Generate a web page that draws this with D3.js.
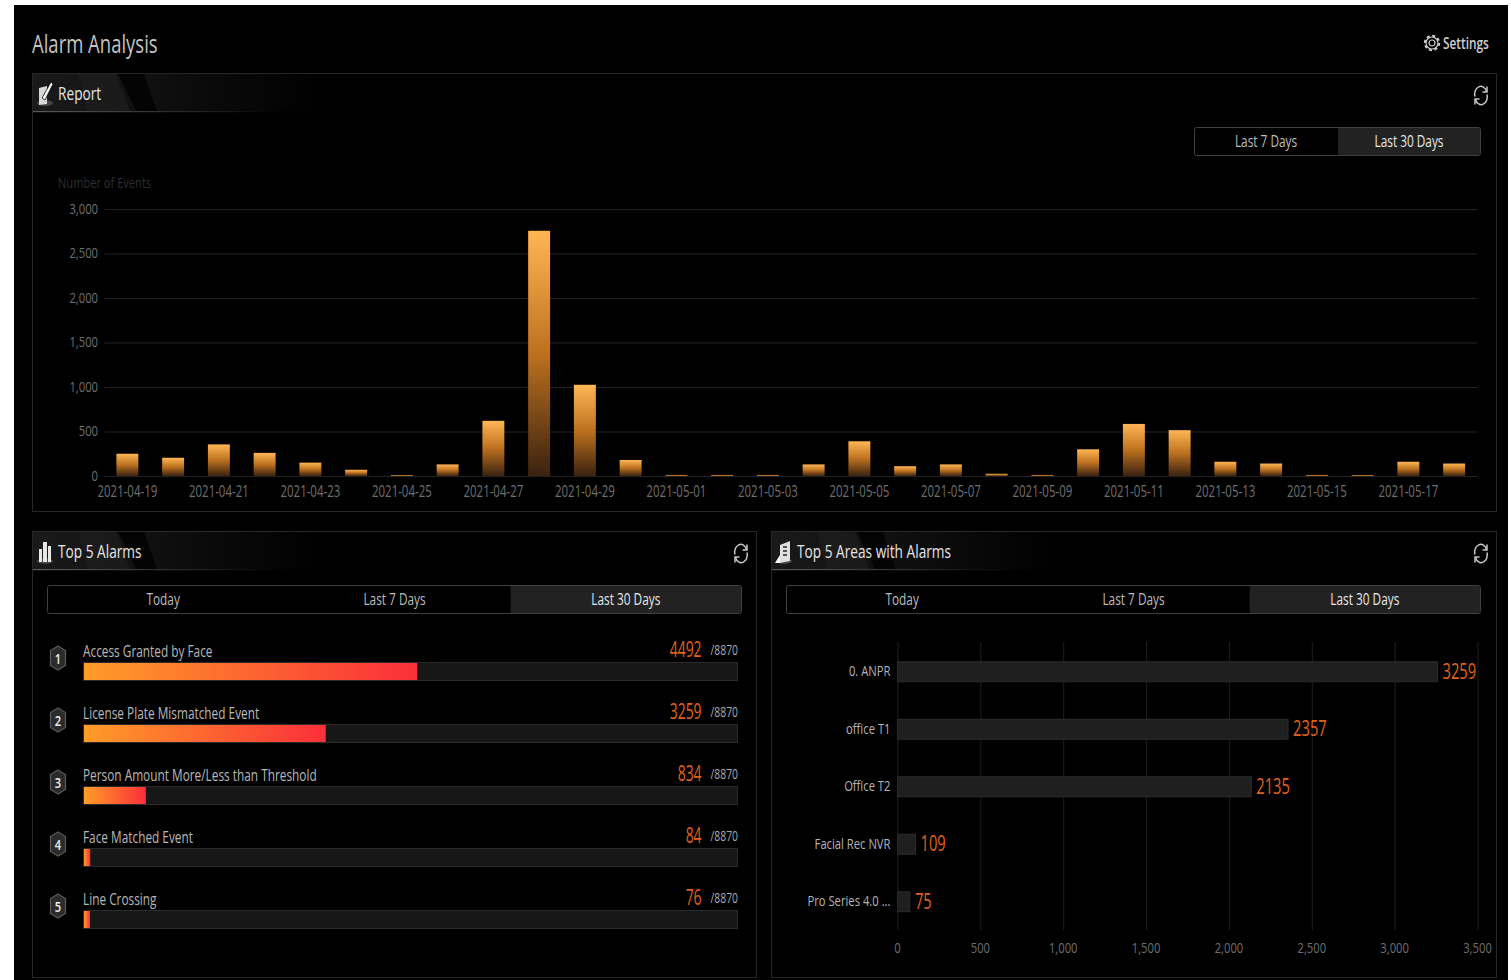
<!DOCTYPE html>
<html><head><meta charset="utf-8">
<script src="https://cdn.jsdelivr.net/npm/d3@7/dist/d3.min.js"></script>
<style>
html,body{margin:0;padding:0;background:#000;overflow:hidden}
svg{display:block}
text{font-family:"Open Sans","Noto Sans",sans-serif}
</style></head><body>
<svg id="c" width="1511" height="980"></svg>
<script>
const reportDates=["2021-04-19","2021-04-20","2021-04-21","2021-04-22","2021-04-23","2021-04-24","2021-04-25","2021-04-26","2021-04-27","2021-04-28","2021-04-29","2021-04-30","2021-05-01","2021-05-02","2021-05-03","2021-05-04","2021-05-05","2021-05-06","2021-05-07","2021-05-08","2021-05-09","2021-05-10","2021-05-11","2021-05-12","2021-05-13","2021-05-14","2021-05-15","2021-05-16","2021-05-17","2021-05-18"];
const reportValues=[250,205,355,260,150,70,10,130,620,2755,1025,180,12,12,12,130,390,110,130,25,12,300,585,515,160,140,12,10,160,140];
const reportTicks=[0,500,1000,1500,2000,2500,3000];
const alarmNames=["Access Granted by Face","License Plate Mismatched Event","Person Amount More/Less than Threshold","Face Matched Event","Line Crossing"];
const alarmValues=[4492,3259,834,84,76];
const alarmTotal=8870;
const areaNames=["0. ANPR","office T1","Office T2","Facial Rec NVR","Pro Series 4.0 ..."];
const areaValues=[3259,2357,2135,109,75];
const areaTicks=[0,500,1000,1500,2000,2500,3000,3500];

const svg=d3.select("#c");
const defs=svg.append("defs");
const SX=0.74;
function T(parent,x,y,s,size,fill,anchor,sx){
  return parent.append("text").attr("transform",`translate(${x},${y}) scale(${sx||SX},1)`)
    .attr("text-anchor",anchor||"start").attr("font-size",size).attr("fill",fill).text(s);
}
const g1=defs.append("linearGradient").attr("id","barG").attr("x1",0).attr("y1",0).attr("x2",0).attr("y2",1);
[[0,"#ffb655"],[0.5,"#bd711f"],[1,"#3a2210"]].forEach(d=>g1.append("stop").attr("offset",d[0]).attr("stop-color",d[1]));
const g2=defs.append("linearGradient").attr("id","alarmG");
[[0,"#ff9c28"],[1,"#fb2f3a"]].forEach(d=>g2.append("stop").attr("offset",d[0]).attr("stop-color",d[1]));
const g3=defs.append("linearGradient").attr("id","headG");
[[0,"#1a1a1a"],[0.35,"#111"],[1,"#000"]].forEach(d=>g3.append("stop").attr("offset",d[0]).attr("stop-color",d[1]));
const g4=defs.append("linearGradient").attr("id","headL");
[[0,"#5a5a5a"],[0.6,"#2a2a2a"],[1,"#000"]].forEach(d=>g4.append("stop").attr("offset",d[0]).attr("stop-color",d[1]));

// page frame: white margins around the black screenshot
svg.append("rect").attr("width",1511).attr("height",980).attr("fill","#fff");
svg.append("rect").attr("x",14).attr("y",5).attr("width",1494).attr("height",975).attr("fill","#000");

T(svg,32,53,"Alarm Analysis",25,"#c4c4c4");
const gear=svg.append("g").attr("transform","translate(1432,43)").attr("fill","none").attr("stroke","#cfcfcf").attr("stroke-width",1.2);
gear.append("circle").attr("r",3);
gear.append("circle").attr("r",6).attr("stroke-width",1.2);
gear.append("circle").attr("r",7.2).attr("stroke-dasharray","3 2.65").attr("stroke-width",2);
T(svg,1443,49,"Settings",16,"#d0d0d0").attr("font-weight",600);

function panel(x,y,w,h,title,icon){
  const g=svg.append("g");
  g.append("rect").attr("x",x+.5).attr("y",y+.5).attr("width",w).attr("height",h).attr("fill","#000").attr("stroke","#262626");
  g.append("rect").attr("x",x+1).attr("y",y+1).attr("width",290).attr("height",37).attr("fill","url(#headG)");
  g.append("path").attr("d",`M${x+86},${y+1}L${x+112},${y+1}L${x+125},${y+38}L${x+104},${y+38}Z`).attr("fill","#000").attr("opacity",.75);
  g.append("path").attr("d",`M${x+46},${y+1}L${x+84},${y+1}L${x+98},${y+38}L${x+56},${y+38}Z`).attr("fill","#1e1e1e").attr("opacity",.7);
  g.append("rect").attr("x",x+1).attr("y",y+38).attr("width",250).attr("height",1.2).attr("fill","url(#headL)");
  const ic=g.append("g").attr("transform",`translate(${x+13},${y+21})`);
  ic.append("ellipse").attr("cx",0).attr("cy",9).attr("rx",8).attr("ry",3).attr("fill","#444");
  if(icon==="report"){
    ic.append("path").attr("d","M-6,-6L2,-8L2,10L-6,11Z").attr("fill","#d8d8d8");
    ic.append("path").attr("d","M-3,4L6,-12L8,-10L0,6Z").attr("fill","#fff").attr("stroke","#000").attr("stroke-width",.8);
  } else if(icon==="bars"){
    [[-6,-3,3],[-2,-10,4],[3,-6,3]].forEach(b=>ic.append("rect").attr("x",b[0]).attr("y",b[1]).attr("width",b[2]).attr("height",11-b[1]-1).attr("fill","#e8e8e8"));
  } else {
    ic.append("path").attr("d","M-4,-7L6,-11L6,9L-4,11Z").attr("fill","#e0e0e0");
    ic.append("path").attr("d","M-1,-5H3M-1,-1H3M-1,3H3").attr("stroke","#222").attr("stroke-width",1.6);
    ic.append("path").attr("d","M-9,11L-4,3V11Z").attr("fill","#fff");
  }
  T(g,x+26,y+27,title,18.5,"#e6e6e6");
  const r=g.append("g").attr("transform",`translate(${x+w-15},${y+22.5})`).attr("fill","none").attr("stroke","#c8c8c8").attr("stroke-width",1.5);
  r.append("path").attr("d","M-6,1A6,7.5 0 0 1 5.5,-4M6,-1A6,7.5 0 0 1 -5.5,4");
  r.append("path").attr("d","M6,-9V-3.5H1.5M-6,9V3.5H-1.5");
}
function tabs(x,y,w,h,labels){
  const g=svg.append("g");
  g.append("rect").attr("x",x+.5).attr("y",y+.5).attr("width",w).attr("height",h).attr("rx",2).attr("fill","#000").attr("stroke","#3f3f3f");
  const n=labels.length,bw=w/n;
  g.append("rect").attr("x",x+w-bw+1).attr("y",y+1).attr("width",bw-1).attr("height",h-1).attr("fill","#222");
  labels.forEach((l,i)=>T(g,x+bw*(i+.5)+.5,y+h/2+5.5,l,16,i===n-1?"#e8e8e8":"#bdbdbd","middle"));
}

panel(32,73,1464,438,"Report","report");
panel(32,531,724,446,"Top 5 Alarms","bars");
panel(771,531,725,446,"Top 5 Areas with Alarms","area");
tabs(1194,127,286,28,["Last 7 Days","Last 30 Days"]);
tabs(47,585,694,28,["Today","Last 7 Days","Last 30 Days"]);
tabs(786,585,694,28,["Today","Last 7 Days","Last 30 Days"]);

const x=d3.scaleBand().domain(reportDates).range([104.5,1477]).paddingInner(0.52).paddingOuter(0.26);
const y=d3.scaleLinear().domain([0,3000]).range([476,209]);
const rp=svg.append("g");
T(rp,58,187.5,"Number of Events",15,"#2e2e2e");
const gy=rp.append("g").attr("transform","translate(104.5,0)").call(d3.axisLeft(y).tickValues(reportTicks).tickSize(0).tickPadding(0).tickFormat(()=>""));
gy.select(".domain").remove();
gy.selectAll("line").attr("x2",1372.5).attr("stroke","#222");
reportTicks.forEach(t=>T(rp,98,y(t)+4.5,d3.format(",")(t),15.2,"#6f6f6f","end"));
rp.selectAll("rect.b").data(reportValues).join("rect").attr("class","b")
  .attr("x",(d,i)=>x(reportDates[i])).attr("width",x.bandwidth())
  .attr("y",d=>y(d)).attr("height",d=>y(0)-y(d))
  .attr("fill","url(#barG)");
reportDates.forEach((d,i)=>{ if(i%2===0) T(rp,x(d)+x.bandwidth()/2,497,d,15.5,"#707070","middle"); });

const aScale=d3.scaleLinear().domain([0,alarmTotal]).range([0,658]);
const rowY=d3.scaleBand().domain(alarmNames).range([632,942]);
const al=svg.append("g");
alarmNames.forEach((n,i)=>{
  const top=rowY(n);
  const cy=top+26;
  const by=top+30;
  al.append("path").attr("transform",`translate(58,${cy})`).attr("d","M0,-12L7.5,-7.5V7.5L0,12L-7.5,7.5V-7.5Z").attr("fill","#2b2b2b").attr("stroke","#5a5a5a").attr("stroke-width",1.2);
  T(al,58,cy+5.5,String(i+1),15,"#efefef","middle").attr("font-weight",600);
  T(al,83,by-5,n,16,"#b8b8b8");
  al.append("rect").attr("x",83.5).attr("y",by+.5).attr("width",654).attr("height",18).attr("fill","#171717").attr("stroke","#2b2b2b");
  al.append("rect").attr("x",84).attr("y",by+1).attr("width",Math.max(aScale(alarmValues[i]),6)).attr("height",17).attr("fill","url(#alarmG)");
  T(al,738,by-7,"/"+alarmTotal,14,"#a8a8a8","end");
  T(al,701.5,by-5,String(alarmValues[i]),21,"#e0621a","end",0.66);
});

const ax=d3.scaleLinear().domain([0,3500]).range([897.5,1477.5]);
const ay=d3.scaleBand().domain(areaNames).range([643,930.5]);
const ar=svg.append("g");
const gx=ar.append("g").attr("transform","translate(0,930)").call(d3.axisBottom(ax).tickValues(areaTicks).tickSize(0).tickFormat(()=>""));
gx.select(".domain").remove();
gx.selectAll("line").attr("y1",-288).attr("y2",0).attr("stroke","#1f1f1f");
areaTicks.forEach(t=>T(ar,ax(t),953,d3.format(",")(t),15.2,"#6f6f6f","middle"));
ar.selectAll("rect.a").data(areaValues).join("rect").attr("class","a")
  .attr("x",ax(0)).attr("y",(d,i)=>ay(areaNames[i])+ay.bandwidth()/2-10)
  .attr("width",d=>ax(d)-ax(0)).attr("height",20)
  .attr("fill","#1f1f1f").attr("stroke","#2c2c2c");
areaNames.forEach((n,i)=>{
  const cy=ay(n)+ay.bandwidth()/2;
  T(ar,890.5,cy+4.5,n,15.2,"#b5b5b5","end");
  T(ar,ax(areaValues[i])+5,cy+7,String(areaValues[i]),21,"#e0621a","start",0.7);
});
</script></body></html>
